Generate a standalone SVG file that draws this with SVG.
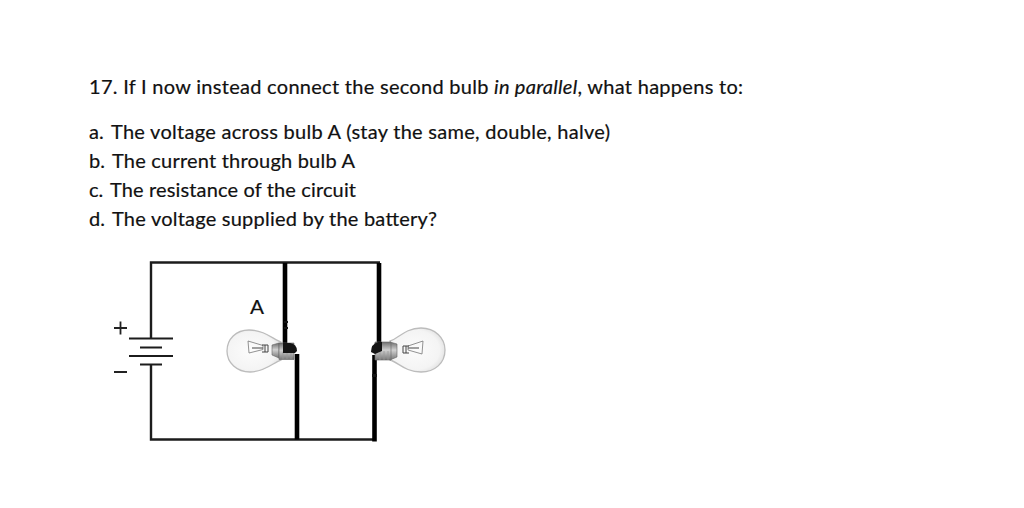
<svg xmlns="http://www.w3.org/2000/svg" width="1024" height="508" viewBox="0 0 1024 508">
<defs>
<radialGradient id="glass" cx=".45" cy=".5" r=".6"><stop offset="0" stop-color="#fcfcfc"/><stop offset=".75" stop-color="#f4f4f4"/><stop offset="1" stop-color="#dedede"/></radialGradient>
<linearGradient id="thread" x1="0" y1="0" x2="0" y2="1"><stop offset="0" stop-color="#6e6e6e"/><stop offset=".45" stop-color="#d0d0d0"/><stop offset="1" stop-color="#777"/></linearGradient>
</defs>
<style>
text{font-family:"Lato","Carlito","Liberation Sans",sans-serif;fill:#111;stroke:#111;stroke-width:.2}
.t{font-size:20px}
.w{fill:none;stroke:#1c1c1c;stroke-width:2.4}
.k{fill:none;stroke:#000;stroke-width:4.6}
.p{fill:none;stroke:#1c1c1c;stroke-width:2.2}
.g{fill:url(#glass);stroke:#bcbcbc;stroke-width:1.300}
.f{fill:none;stroke:#777;stroke-width:.8}
.ff{fill:none;stroke:#444;stroke-width:1}
.c{fill:url(#thread);stroke:#666;stroke-width:.6}
.d{fill:#141414}
</style>
<rect width="1024" height="508" fill="#fff"/>
<g id="question">
<text class="t" x="89" y="94" textLength="654" lengthAdjust="spacing">17. If I now instead connect the second bulb <tspan font-style="italic">in parallel</tspan>, what happens to:</text>
<text class="t" x="89" y="139">a.</text>
<text class="t" x="111" y="139" textLength="499" lengthAdjust="spacing">The voltage across bulb A (stay the same, double, halve)</text>
<text class="t" x="89" y="168">b.</text>
<text class="t" x="112" y="168" textLength="243" lengthAdjust="spacing">The current through bulb A</text>
<text class="t" x="89" y="197">c.</text>
<text class="t" x="110" y="197" textLength="246" lengthAdjust="spacing">The resistance of the circuit</text>
<text class="t" x="89" y="226">d.</text>
<text class="t" x="112" y="226" textLength="325" lengthAdjust="spacing">The voltage supplied by the battery?</text>
</g>
<g id="connectors">
<path class="w" d="M151 338V262.500H380"/>
<path class="w" d="M151 364V439.500H373"/>
<path class="k" d="M285 263V350"/>
<path class="k" d="M297 354V439.500"/>
<path class="k" d="M379 263V350"/>
<path class="k" d="M374.500 355V441.500"/>
<path class="d" d="M284 321h4v2h-4zM284 327h4v2h-4zM372 374h5v3h-5z"/>
</g>
<g id="battery">
<path class="p" d="M129 338.500H173M140 347.500H162M129 356H173M140 364.500H162"/>
<path d="M114 328H127M120.500 321.500V334.500M114 372H127" fill="none" stroke="#222" stroke-width="1.800"/>
</g>
<g id="bulb-a">
<text x="250" y="313.500" font-size="20" textLength="14" lengthAdjust="spacingAndGlyphs">A</text>
<path class="g" d="M281 342C274 340 265 330 249 330C236 330 227 339 227 351C227 363 237 372 250 372C265 372 274 362 281 360Z"/>
<path class="f" d="M248 341L249 353L263 349.500V345.500Z"/>
<path class="ff" d="M252 348H263M262 345H268V352H262M265 345V352"/>
<path class="c" d="M272 345L279 343V358L272 355Z"/>
<path class="c" d="M279 343H294V359.500H279Z"/>
<path d="M283 352V359M287 352V359M291 352V359" stroke="#999" stroke-width=".8"/>
<path class="d" d="M283 343H290Q297 344 297 351L295 353H283Z"/>
</g>
<g id="bulb-b">
<path class="g" d="M390 341C398 339 405 328 421 328C435 328 445 338 445 350C445 363 435 372 421 372C405 372 398 362 390 360Z"/>
<path class="f" d="M423 341L422 354L408 350V346Z"/>
<path class="ff" d="M419 348H408M409 346H403V353H409M406 346V353"/>
<path class="c" d="M397 344L390 342V360L397 357Z"/>
<path class="c" d="M375 342H391V360H375Z"/>
<path d="M380 351V360M384 351V360M388 351V360" stroke="#999" stroke-width=".8"/>
<path class="d" d="M382 342H378Q371 344 371 352L375 354L382 351Z"/>
</g>
</svg>
